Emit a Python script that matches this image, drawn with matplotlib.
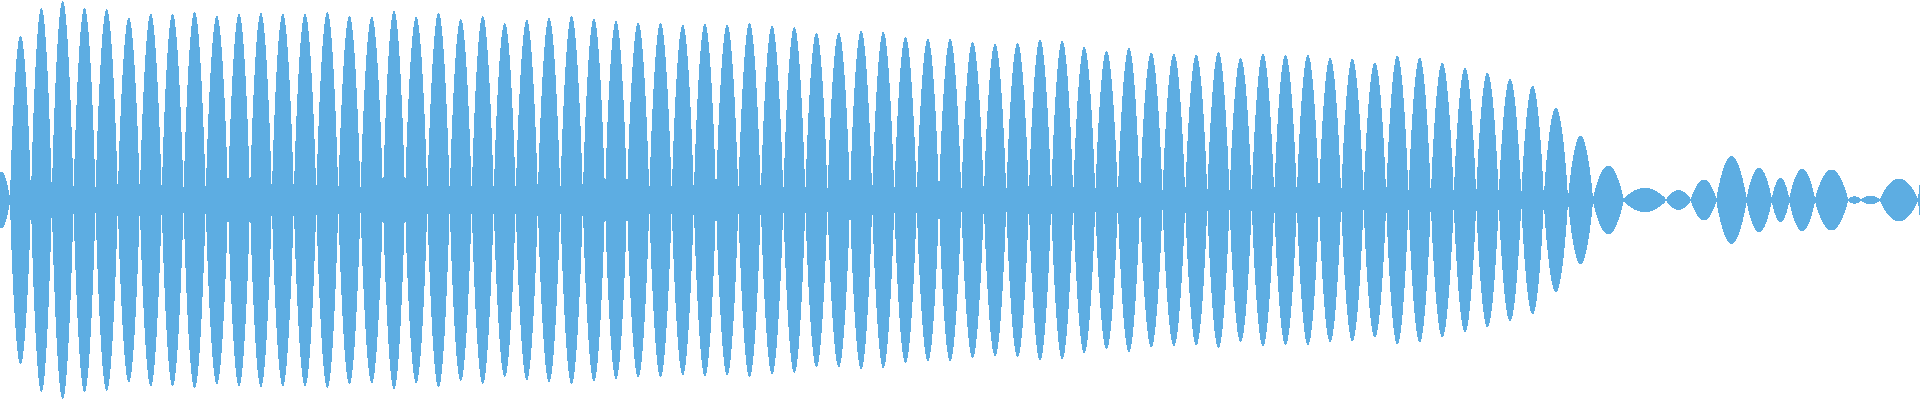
import numpy as np
import matplotlib
matplotlib.use("Agg")
import matplotlib.pyplot as plt

# envelope nodes (where the waveform pinches) and the peak amplitude of each lobe
# x in pixels of the 1920 wide strip, amplitude in pixels from the centre line
lobe_edges = [-7, 10, 31, 51.8, 73.5, 95.5, 117.8, 139.8, 161.7, 183.5,
              205.7, 228, 250, 271.8, 293.8, 316.3, 338.3, 360.5, 383, 405,
              427.3, 449.7, 471.7, 493.7, 515.7, 537.8, 560.3, 582.8, 605, 627,
              649.3, 671.7, 693.8, 716, 738.3, 760.8, 783.3, 805.3, 827.5, 850,
              872.2, 894.3, 916.7, 939, 961.3, 983.8, 1006.3, 1028.8, 1051.2, 1073.2,
              1095.3, 1117.8, 1140, 1162.5, 1185.2, 1207.3, 1229.5, 1251.7, 1274.2, 1296.8,
              1319, 1341.2, 1363.5, 1386.2, 1408.5, 1430.8, 1453.7, 1476.2, 1498.7, 1521.3,
              1543.8, 1568, 1593, 1623.5, 1666, 1691, 1716.5, 1746.5, 1771.7, 1789.3,
              1815, 1848, 1861, 1880, 1918, 1935]

lobe_amps = [28, 164, 192, 199, 192, 191, 182, 186, 186, 188,
             184, 186, 187, 186, 186, 188, 184, 183, 189, 183,
             187, 181, 184, 177, 180, 182, 184, 181, 179, 177,
             177, 175, 176, 175, 177, 174, 173, 167, 167, 169,
             168, 163, 161, 161, 158, 156, 157, 160, 159, 153,
             149, 152, 147, 146, 145, 148, 142, 146, 145, 145,
             142, 141, 137, 144, 142, 137, 132, 127, 121, 114,
             92, 64, 34, 11.7, 9.3, 20, 43.3, 31.7, 21.7, 30.7,
             30, 3.3, 4, 21, 40]

W, H = 1920, 400
color = "#5dade2"

# build the envelope on a fine grid, each lobe is a rounded half sine between its nodes
xf = np.arange(0, W, 0.05) + 0.025
env = np.zeros_like(xf)
for i, amp in enumerate(lobe_amps):
    a, b = lobe_edges[i], lobe_edges[i + 1]
    m = (xf >= a) & (xf < b)
    env[m] = amp * np.sin(np.pi * (xf[m] - a) / (b - a)) ** 0.8

# one value per pixel column, like a waveform view
cols = env.reshape(W, -1).mean(axis=1)
xc = np.arange(W + 1)
cols = np.append(cols, cols[-1])

fig = plt.figure(figsize=(19.2, 4), dpi=100)
ax = fig.add_axes([0, 0, 1, 1])
ax.fill_between(xc, -cols, cols, step="post", color=color, linewidth=0, antialiased=False)
ax.set_xlim(0, W)
ax.set_ylim(-H / 2, H / 2)
ax.axis("off")

fig.savefig("out.png", dpi=100, facecolor="white")
